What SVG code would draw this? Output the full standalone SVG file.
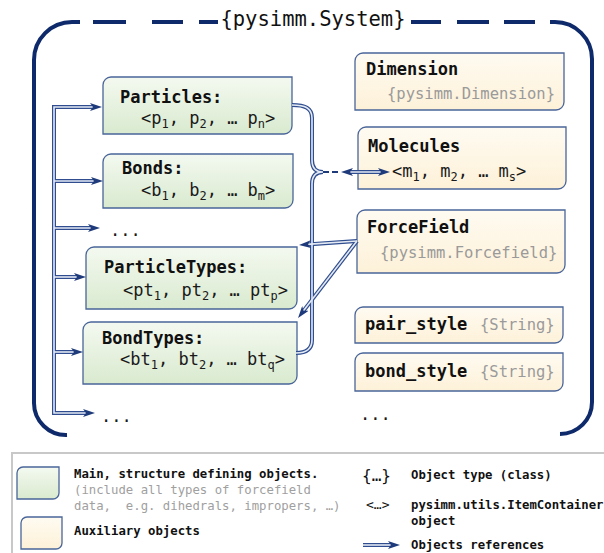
<svg xmlns="http://www.w3.org/2000/svg" width="604" height="553" viewBox="0 0 604 553">
<defs>
<linearGradient id="gGreen" x1="0" y1="0" x2="0" y2="1">
<stop offset="0" stop-color="#f4f9f0"/><stop offset="1" stop-color="#d9eacf"/>
</linearGradient>
<linearGradient id="gYellow" x1="0" y1="0" x2="0" y2="1">
<stop offset="0" stop-color="#fffbf2"/><stop offset="1" stop-color="#fdf1d8"/>
</linearGradient>
<marker id="ah" viewBox="0 0 12 8" refX="4" refY="4" markerWidth="12" markerHeight="8" markerUnits="userSpaceOnUse" orient="auto-start-reverse">
<path d="M0,0 L12,4 L0,8 L3,4 Z" fill="#1f3a7a"/>
</marker>
<style>
.main{fill:url(#gGreen);stroke:#4a6599;stroke-width:1.3}
.aux{fill:url(#gYellow);stroke:#4a6599;stroke-width:1.3}
.t{font-family:"DejaVu Sans Mono","Liberation Mono",monospace}
.lbl{font-size:17px;font-weight:bold;fill:#111}
.itm{font-size:17px;fill:#1a1a1a}
.typ{font-size:15.5px;fill:#9a9a9a}
.sub{font-size:12px}
.co{fill:none;stroke:#2f4d8f;stroke-width:4}
.ci{fill:none;stroke:#e4eaf4;stroke-width:1.6}
.frame{fill:none;stroke:#0e2a6a;stroke-width:4;stroke-linecap:butt}
.leg{font-size:12.3px}
</style>
</defs>

<g id="frame">
<path class="frame" d="M67,435 A32,32 0 0 1 34,403 V60 A38,38 0 0 1 72,22 H80"/>
<path class="frame" d="M93,22 H126 M152,22 H183 M199,22 H218 M411,22 H441 M457,22 H489 M504,22 H535"/>
<path class="frame" d="M550,22 H555 A37,37 0 0 1 592,59 V402 A32,32 0 0 1 560,434"/>
<text class="t" x="313" y="26" font-size="20.5" text-anchor="middle" fill="#111">{pysimm.System}</text>
</g>

<g id="particles">
<path class="main" d="M103,85 A8,8 0 0 1 111,77 H292 V126 A8,8 0 0 1 284,134 H103 Z"/>
<text class="t lbl" x="120" y="103">Particles:</text>
<text class="t itm" x="141" y="124">&lt;p<tspan class="sub" dy="4">1</tspan><tspan dy="-4">, p</tspan><tspan class="sub" dy="4">2</tspan><tspan dy="-4">, … p</tspan><tspan class="sub" dy="4">n</tspan><tspan dy="-4">&gt;</tspan></text>
</g>

<g id="bonds">
<path class="main" d="M103,162 A8,8 0 0 1 111,154 H293 V200 A8,8 0 0 1 285,208 H103 Z"/>
<text class="t lbl" x="122" y="174">Bonds:</text>
<text class="t itm" x="141" y="196">&lt;b<tspan class="sub" dy="4">1</tspan><tspan dy="-4">, b</tspan><tspan class="sub" dy="4">2</tspan><tspan dy="-4">, … b</tspan><tspan class="sub" dy="4">m</tspan><tspan dy="-4">&gt;</tspan></text>
</g>

<text id="dots1" class="t itm" x="110" y="236">...</text>

<g id="particletypes">
<path class="main" d="M86,255 A8,8 0 0 1 94,247 H297 V301 A8,8 0 0 1 289,309 H86 Z"/>
<text class="t lbl" x="104" y="273">ParticleTypes:</text>
<text class="t itm" x="123" y="296">&lt;pt<tspan class="sub" dy="4">1</tspan><tspan dy="-4">, pt</tspan><tspan class="sub" dy="4">2</tspan><tspan dy="-4">, … pt</tspan><tspan class="sub" dy="4">p</tspan><tspan dy="-4">&gt;</tspan></text>
</g>

<g id="bondtypes">
<path class="main" d="M83,330 A8,8 0 0 1 91,322 H297 V376 A8,8 0 0 1 289,384 H83 Z"/>
<text class="t lbl" x="102" y="344">BondTypes:</text>
<text class="t itm" x="120" y="365">&lt;bt<tspan class="sub" dy="4">1</tspan><tspan dy="-4">, bt</tspan><tspan class="sub" dy="4">2</tspan><tspan dy="-4">, … bt</tspan><tspan class="sub" dy="4">q</tspan><tspan dy="-4">&gt;</tspan></text>
</g>

<text id="dots2" class="t itm" x="101" y="422">...</text>

<g id="dimension">
<path class="aux" d="M355,61 A8,8 0 0 1 363,53 H564 V102 A8,8 0 0 1 556,110 H355 Z"/>
<text class="t lbl" x="366" y="75">Dimension</text>
<text class="t typ" x="387" y="99">{pysimm.Dimension}</text>
</g>

<g id="molecules">
<path class="aux" d="M358,135 A8,8 0 0 1 366,127 H566 V181 A8,8 0 0 1 558,189 H358 Z"/>
<text class="t lbl" x="368" y="152">Molecules</text>
<text class="t itm" x="392" y="177">&lt;m<tspan class="sub" dy="4">1</tspan><tspan dy="-4">, m</tspan><tspan class="sub" dy="4">2</tspan><tspan dy="-4">, … m</tspan><tspan class="sub" dy="4">s</tspan><tspan dy="-4">&gt;</tspan></text>
</g>

<g id="forcefield">
<path class="aux" d="M357,218 A8,8 0 0 1 365,210 H565 V265 A8,8 0 0 1 557,273 H357 Z"/>
<text class="t lbl" x="367" y="233">ForceField</text>
<text class="t typ" x="380" y="258">{pysimm.Forcefield}</text>
</g>

<g id="pair_style">
<path class="aux" d="M355,315 A8,8 0 0 1 363,307 H563 V335 A8,8 0 0 1 555,343 H355 Z"/>
<text class="t lbl" x="365" y="330">pair_style</text>
<text class="t typ" x="480" y="330">{String}</text>
</g>

<g id="bond_style">
<path class="aux" d="M355,361 A8,8 0 0 1 363,353 H563 V383 A8,8 0 0 1 555,391 H355 Z"/>
<text class="t lbl" x="365" y="377">bond_style</text>
<text class="t typ" x="480" y="377">{String}</text>
</g>

<text id="dots3" class="t itm" x="360" y="420">...</text>

<g id="legend">
<rect x="12" y="453" width="620" height="120" fill="#ffffff" stroke="#c8c8c8" stroke-width="2"/>
<path class="main" d="M17,473 A6,6 0 0 1 23,467 H59 V493 A6,6 0 0 1 53,499 H17 Z"/>
<path class="aux" d="M21,523 A6,6 0 0 1 27,517 H62 V543 A6,6 0 0 1 56,549 H21 Z"/>
<text class="t leg" x="74" y="478" font-weight="bold" fill="#111">Main, structure defining objects.</text>
<text class="t leg" x="74" y="494" fill="#a0a0a0">(include all types of forcefield</text>
<text class="t leg" x="74" y="510" fill="#a0a0a0" xml:space="preserve">data,  e.g. dihedrals, impropers, …)</text>
<text class="t leg" x="74" y="535" font-weight="bold" fill="#111">Auxiliary objects</text>
<text class="t" x="362" y="481" font-size="16" fill="#111">{…}</text>
<text class="t leg" x="411" y="479" font-weight="bold" fill="#111">Object type (class)</text>
<text class="t" x="366" y="509" font-size="13" fill="#111">&lt;…&gt;</text>
<text class="t leg" x="411" y="509" font-weight="bold" fill="#111">pysimm.utils.ItemContainer</text>
<text class="t leg" x="411" y="525" font-weight="bold" fill="#111">object</text>
<text class="t leg" x="411" y="549" font-weight="bold" fill="#111">Objects references</text>
</g>

<g id="connectors">
<g id="outer">
<path class="co" d="M94,107 H54 V413 H87"/>
<path class="co" d="M54,181 H95"/>
<path class="co" d="M54,228 H92"/>
<path class="co" d="M54,277 H78"/>
<path class="co" d="M54,352 H75"/>
<path class="co" d="M292,105 C305,105 312,108 312,118 V160 C312,168 316,172 323,172 C316,172 312,176 312,184 V340 C312,350 305,353 296,353"/>
<path class="co" d="M349,172 H382"/>
<path class="co" d="M357,241 L307,244.4"/>
<path class="co" d="M357,241 L302.9,311.6"/>
<path class="co" d="M363,545 H392"/>
</g>
<g id="inner">
<path class="ci" d="M94,107 H54 V413 H87" marker-start="url(#ah)" marker-end="url(#ah)"/>
<path class="ci" d="M54,181 H95" marker-end="url(#ah)"/>
<path class="ci" d="M54,228 H92" marker-end="url(#ah)"/>
<path class="ci" d="M54,277 H78" marker-end="url(#ah)"/>
<path class="ci" d="M54,352 H75" marker-end="url(#ah)"/>
<path class="ci" d="M292,105 C305,105 312,108 312,118 V160 C312,168 316,172 323,172 C316,172 312,176 312,184 V340 C312,350 305,353 296,353"/>
<path class="ci" d="M349,172 H382" marker-start="url(#ah)" marker-end="url(#ah)"/>
<path class="ci" d="M357,241 L307,244.4" marker-end="url(#ah)"/>
<path class="ci" d="M357,241 L302.9,311.6" marker-end="url(#ah)"/>
<path class="ci" d="M363,545 H392" marker-end="url(#ah)"/>
</g>
<path d="M323,172 H341" fill="none" stroke="#1f3a7a" stroke-width="2" stroke-dasharray="6 3"/>
</g>
</svg>
